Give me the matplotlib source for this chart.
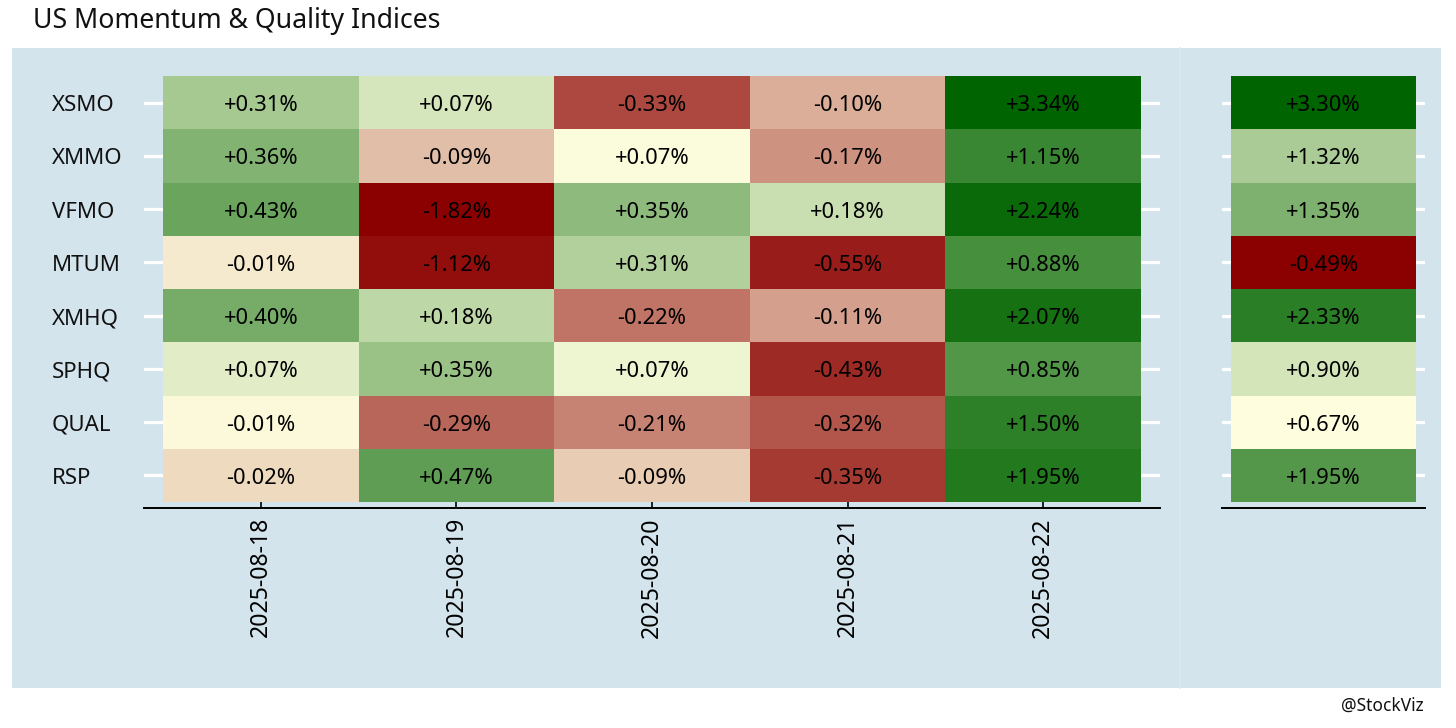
import numpy as np
import matplotlib
matplotlib.use("Agg")
import matplotlib.pyplot as plt
from matplotlib.colors import LinearSegmentedColormap, TwoSlopeNorm
from matplotlib.transforms import blended_transform_factory, ScaledTranslation
from matplotlib.patches import Rectangle
from matplotlib.lines import Line2D

# ---------------- data ----------------
tickers = ["XSMO", "XMMO", "VFMO", "MTUM", "XMHQ", "SPHQ", "QUAL", "RSP"]
dates = ["2025-08-18", "2025-08-19", "2025-08-20", "2025-08-21", "2025-08-22"]
d_0818 = [0.312, 0.36, 0.43, -0.012, 0.40, 0.071, -0.006, -0.02]
d_0819 = [0.073, -0.094, -1.82, -1.12, 0.183, 0.347, -0.29, 0.47]
d_0820 = [-0.33, 0.066, 0.352, 0.307, -0.22, 0.068, -0.21, -0.088]
d_0821 = [-0.10, -0.17, 0.178, -0.55, -0.11, -0.43, -0.32, -0.35]
d_0822 = [3.34, 1.15, 2.24, 0.88, 2.07, 0.85, 1.50, 1.95]
week = [3.30, 1.32, 1.35, -0.49, 2.33, 0.90, 0.67, 1.95]
title = "US Momentum & Quality Indices"
credit = "@StockViz"

plt.rcParams['font.family'] = ['Noto Sans', 'DejaVu Sans']

W, H = 1456, 728
fig = plt.figure(figsize=(W / 100, H / 100), dpi=100)
fig.patch.set_facecolor("white")

BG = "#d4e4ec"
fig.patches.append(Rectangle((12 / W, 1 - 688 / H), (1441 - 12) / W, (688 - 48) / H,
                             transform=fig.transFigure, facecolor=BG, edgecolor="none", zorder=-10))
fig.lines.append(Line2D([1180 / W, 1180 / W], [1 - 688 / H, 1 - 48 / H], transform=fig.transFigure,
                        color="#d9e7ee", lw=1.2, zorder=-9))

cmap = LinearSegmentedColormap.from_list("rdylgn", ["#8b0000", "#ffffe0", "#006400"])
down = ScaledTranslation(0, -3 / 100, fig.dpi_scale_trans)

def rank(a):
    flat = a.flatten()
    r = np.empty(flat.size)
    r[np.argsort(flat, kind="stable")] = np.arange(1, flat.size + 1)
    return r.reshape(a.shape)

def px_axes(x0, x1, ytop, ybot):
    return fig.add_axes([x0 / W, 1 - ybot / H, (x1 - x0) / W, (ybot - ytop) / H])

def style(ax):
    ax.set_facecolor("none")
    for s in ["top", "left", "right"]:
        ax.spines[s].set_visible(False)
    ax.spines["bottom"].set_color("black")
    ax.spines["bottom"].set_linewidth(1.4)
    ax.set_yticks(range(len(tickers)))
    ax.set_yticklabels([])
    ax.tick_params(axis="y", length=0)
    ax.yaxis.grid(True, color="white", lw=2.3)
    ax.xaxis.grid(False)
    ax.set_axisbelow(True)

# ---------------- left heatmap ----------------
daily = np.column_stack([d_0818, d_0819, d_0820, d_0821, d_0822])
nr, nc = daily.shape
ax = px_axes(144, 1160, 70, 508)
style(ax)
ex, ey = 19 / 195.4, 6 / 53.25
rk = rank(daily)
ax.pcolormesh(np.arange(nc + 1) - 0.5, np.arange(nr + 1) - 0.5, rk, cmap=cmap,
              norm=TwoSlopeNorm(vmin=1, vcenter=18.5, vmax=rk.size), zorder=2)
for i in range(nr):
    for j in range(nc):
        ax.text(j, i, f"{daily[i, j]:+.2f}%", ha="center", va="center", fontsize=15.8,
                color="black", zorder=3, transform=ax.transData + down)
ax.set_xlim(-0.5 - ex, nc - 0.5 + ex)
ax.set_ylim(nr - 0.5 + ey, -0.5 - ey)
ax.set_xticks(range(nc))
ax.set_xticklabels(dates, rotation=90, fontsize=16.6)
ax.tick_params(axis="x", direction="in", length=7.5, width=1.2, color="black", pad=6.5)

tr = blended_transform_factory(fig.transFigure, ax.transData)
for i, t in enumerate(tickers):
    ax.text(52 / W, i, t, transform=tr + down, ha="left", va="center", fontsize=16, color="#111111")

# ---------------- right heatmap ----------------
wk = np.array(week).reshape(-1, 1)
ax2 = px_axes(1222, 1425, 70, 508)
style(ax2)
ex2 = 9 / 185
rk2 = rank(wk)
ax2.pcolormesh(np.array([-0.5, 0.5]), np.arange(nr + 1) - 0.5, rk2, cmap=cmap,
               norm=TwoSlopeNorm(vmin=1, vcenter=2, vmax=rk2.size), zorder=2)
for i in range(nr):
    ax2.text(0, i, f"{wk[i, 0]:+.2f}%", ha="center", va="center", fontsize=15.8,
             color="black", zorder=3, transform=ax2.transData + down)
ax2.set_xlim(-0.5 - ex2, 0.5 + ex2)
ax2.set_ylim(nr - 0.5 + ey, -0.5 - ey)
ax2.set_xticks([])

fig.text(33 / W, 1 - 21 / H, title, ha="left", va="center", fontsize=19.2, color="#111111")
fig.text(1424 / W, 1 - 706 / H, credit, ha="right", va="center", fontsize=12.5, color="#111111")

fig.savefig("out.png", dpi=100)
